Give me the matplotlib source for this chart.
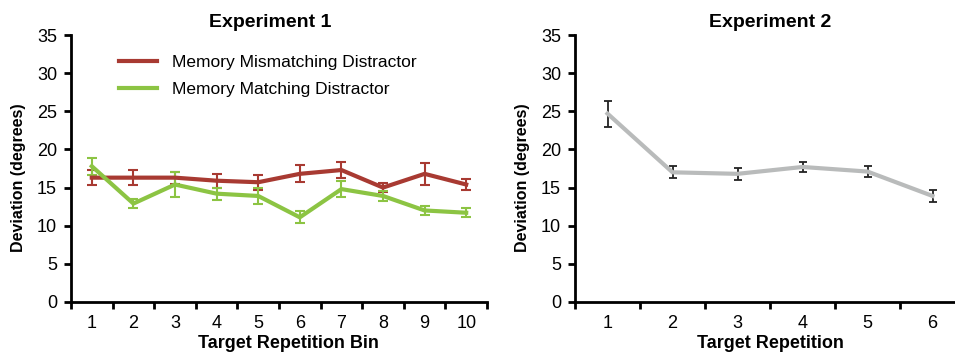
import matplotlib
matplotlib.use("Agg")
import matplotlib.pyplot as plt
import numpy as np
from matplotlib.lines import Line2D

# ---- data ----
bins1 = [1, 2, 3, 4, 5, 6, 7, 8, 9, 10]
mismatch_mean = [16.3, 16.3, 16.3, 15.9, 15.7, 16.8, 17.3, 15.0, 16.8, 15.4]
mismatch_err = [1.0, 1.0, 0.8, 0.9, 1.0, 1.1, 1.1, 0.6, 1.4, 0.7]
match_mean = [17.8, 12.9, 15.4, 14.2, 13.9, 11.1, 14.8, 13.9, 12.0, 11.7]
match_err = [1.1, 0.6, 1.6, 0.8, 1.0, 0.8, 1.1, 0.6, 0.6, 0.6]

reps2 = [1, 2, 3, 4, 5, 6]
exp2_mean = [24.7, 17.0, 16.8, 17.7, 17.1, 13.9]
exp2_err = [1.7, 0.8, 0.8, 0.7, 0.7, 0.8]

yticks = [0, 5, 10, 15, 20, 25, 30, 35]
labels_legend = ["Memory Mismatching Distractor", "Memory Matching Distractor"]

plt.rcParams['font.family'] = ['Liberation Sans', 'DejaVu Sans']

RED = "#a83a32"
GREEN = "#8cc443"
GRAY = "#b9bbbb"

fig = plt.figure(figsize=(9.55, 3.54), dpi=100)
ax1 = fig.add_axes([71/955, 1-302/354, 416/955, 267/354])
ax2 = fig.add_axes([575/955, 1-302/354, 390/955, 267/354])

def style(ax, n, xlabel, title, title_x, xlabel_x):
    ax.set_xlim(0.5, n + 0.5)
    ax.set_ylim(0, 35)
    ax.set_yticks(yticks)
    ax.set_yticklabels([str(v) for v in yticks], fontsize=13)
    ax.set_xticks(np.arange(1, n + 1))
    ax.set_xticklabels([str(v) for v in range(1, n + 1)], fontsize=13)
    ax.set_xticks(np.arange(0.5, n + 1.0, 1.0), minor=True)
    ax.tick_params(axis='x', which='major', length=0, pad=9)
    ax.tick_params(axis='x', which='minor', length=5, width=2, direction='out')
    ax.tick_params(axis='y', length=5, width=2, direction='out', pad=5)
    for s in ['top', 'right']:
        ax.spines[s].set_visible(False)
    for s in ['left', 'bottom']:
        ax.spines[s].set_linewidth(2)
    ax.set_xlabel(xlabel, fontsize=13, fontweight='bold')
    ax.xaxis.set_label_coords(xlabel_x, -0.125)
    ax.set_ylabel("Deviation (degrees)", fontsize=11.5, fontweight='bold')
    ax.yaxis.set_label_coords(-45 / (ax.get_position().width * 955), 0.465)
    ax.set_title(title, fontsize=14, fontweight='bold', pad=6, x=title_x)
    ax.patch.set_alpha(0)

ax1.errorbar(bins1, mismatch_mean, yerr=mismatch_err, color=RED, lw=3,
             ecolor=RED, elinewidth=1.5, capsize=3.5, capthick=1.5, zorder=3)
ax1.errorbar(bins1, match_mean, yerr=match_err, color=GREEN, lw=3,
             ecolor=GREEN, elinewidth=1.5, capsize=3.5, capthick=1.5, zorder=3)
style(ax1, 10, "Target Repetition Bin", "Experiment 1", 0.478, 0.523)
handles = [Line2D([], [], color=RED, lw=3), Line2D([], [], color=GREEN, lw=3)]
ax1.legend(handles, labels_legend, loc='upper left', bbox_to_anchor=(0.077, 0.985),
           frameon=False, fontsize=12.5, handlelength=2.2, handletextpad=0.85,
           labelspacing=0.7)

ax2.errorbar(reps2, exp2_mean, yerr=exp2_err, color=GRAY, lw=3,
             ecolor="#222222", elinewidth=1.3, capsize=3, capthick=1.3, zorder=3)
style(ax2, 6, "Target Repetition", "Experiment 2", 0.5, 0.5)

fig.savefig("out.png", dpi=100)
